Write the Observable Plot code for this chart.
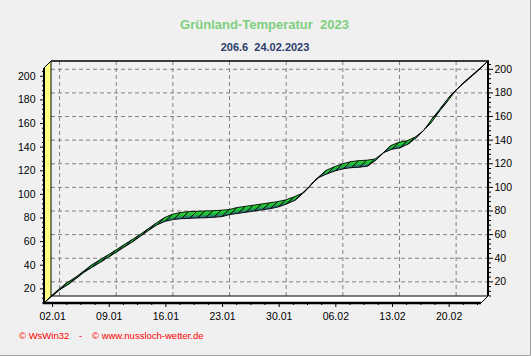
<!DOCTYPE html>
<html><head><meta charset="utf-8">
<script src="https://cdn.jsdelivr.net/npm/d3@7"></script>
<script src="https://cdn.jsdelivr.net/npm/@observablehq/plot@0.6"></script>
<style>
html,body{margin:0;padding:0;background:#f0f0f0;}
#chart{position:relative;width:531px;height:356px;overflow:hidden;}
</style></head><body><div id="chart"></div>
<script>
// ---- data ----
const title = "Grünland-Temperatur  2023";
const subtitle = "206.6  24.02.2023";
const footerParts = ["© WsWin32", "-", "© www.nussloch-wetter.de"];
const startDate = "01.01.2023";
// daily cumulative grassland temperature sum, 01.01 .. 24.02
const values = [
  7.6, 13.5, 19.0, 23.3, 28.5, 33.8, 38.1, 42.2, 46.5, 50.9,
  55.3, 59.6, 64.5, 69.4, 73.9, 76.8, 78.3, 79.0, 79.3, 79.6,
  79.8, 80.2, 80.8, 82.5, 83.5, 84.5, 85.5, 86.5, 87.5, 89.0,
  91.5, 94.5, 100.5, 108.0, 114.0, 117.0, 119.5, 121.3, 122.2, 122.6,
  123.5, 128.5, 135.0, 137.8, 139.0, 142.2, 147.5, 154.5, 164.0, 172.5,
  181.5, 188.5, 194.5, 200.5, 206.6
];
const yTicks = [20, 40, 60, 80, 100, 120, 140, 160, 180, 200];
const xTickLabels = ["02.01", "09.01", "16.01", "23.01", "30.01", "06.02", "13.02", "20.02"];

// ---- derived ----
const parse = d3.utcParse("%d.%m.%Y");
const start = parse(startDate);
const data = values.map((v, i) => ({date: d3.utcDay.offset(start, i), value: v}));
const xTicks = xTickLabels.map(s => parse(s + ".2023"));
const endDate = data[data.length - 1].date;
const xMinor = [];
for (let k = 1; ; k++) {
  const t = new Date(+xTicks[0] + k * 1.75 * 864e5);
  if (t > endDate) break;
  if (k % 4) xMinor.push(t);
}
const yMin = d3.min(values), yMax = d3.max(values);
const yMinor = d3.range(8, yMax, 4).filter(v => v % 20 !== 0);

const D = 7; // depth of the 3D effect in px
const gridStyle = {stroke: "#808080", strokeOpacity: 1, strokeDasharray: "4,3", dx: D, dy: -D};

const box = (index, scales, vals, dim) => {
  const L = dim.marginLeft, R = dim.width - dim.marginRight;
  const T = dim.marginTop, B = dim.height - dim.marginBottom;
  const g = d3.create("svg:g");
  g.append("polygon").attr("points", `${L},${B} ${L},${T} ${L+D},${T-D} ${L+D},${B-D}`)
    .attr("fill", "#ffff80").attr("stroke", "black");
  g.append("polygon").attr("points", `${L},${B} ${R},${B} ${R+D},${B-D} ${L+D},${B-D}`)
    .attr("fill", "white").attr("stroke", "black");
  g.append("line").attr("x1", L+D).attr("x2", R+D+1).attr("y1", T-D).attr("y2", T-D)
    .attr("stroke", "black").attr("stroke-width", 1.5);
  g.append("line").attr("x1", R+D).attr("x2", R+D).attr("y1", T-D).attr("y2", B-D)
    .attr("stroke", "black").attr("stroke-width", 2);
  g.append("line").attr("x1", L-1).attr("x2", R).attr("y1", B).attr("y2", B)
    .attr("stroke", "black").attr("stroke-width", 2.5);
  g.append("line").attr("x1", L).attr("x2", L).attr("y1", T).attr("y2", B)
    .attr("stroke", "black").attr("stroke-width", 2);
  return g.node();
};

const ribbon = (index, scales) => {
  const g = d3.create("svg:g");
  const grad = g.append("defs").append("linearGradient").attr("id", "rib")
    .attr("x1", 0).attr("y1", 0).attr("x2", 0).attr("y2", 1);
  grad.append("stop").attr("offset", "0%").attr("stop-color", "#2ee62e");
  grad.append("stop").attr("offset", "50%").attr("stop-color", "#1fb83a");
  grad.append("stop").attr("offset", "100%").attr("stop-color", "#2d5296");
  const pts = data.map(d => [scales.x(d.date), scales.y(d.value)]);
  for (let i = 0; i < pts.length - 1; i++) {
    const [x0, y0] = pts[i], [x1, y1] = pts[i + 1];
    g.append("path")
      .attr("d", `M${x0},${y0}L${x1},${y1}L${x1+D},${y1-D}L${x0+D},${y0-D}Z`)
      .attr("fill", "url(#rib)").attr("stroke", "black").attr("stroke-width", 0.9)
      .attr("stroke-linejoin", "round");
  }
  return g.node();
};

const border = (index, scales, vals, dim) => {
  const g = d3.create("svg:g");
  g.append("path").attr("d", `M${dim.width-0.5},0V${dim.height-0.5}H0`)
    .attr("fill", "none").attr("stroke", "#a0a0a0");
  return g.node();
};

const chart = Plot.plot({
  width: 531,
  height: 356,
  marginLeft: 44,
  marginRight: 50,
  marginTop: 68,
  marginBottom: 53,
  style: {background: "#f0f0f0", fontFamily: "'Liberation Sans', Arial, sans-serif", fontSize: "10.5px", color: "black"},
  x: {type: "utc", domain: [start, endDate]},
  y: {domain: [yMin, yMax]},
  marks: [
    Plot.gridX(xTicks, gridStyle),
    Plot.gridY(yTicks, gridStyle),
    box,
    ribbon,
    Plot.axisX(xTicks, {tickSize: 4, tickPadding: 5, tickFormat: (d, i) => xTickLabels[i], stroke: "black", fill: "black"}),
    Plot.axisX(xMinor, {tickSize: 2, tickFormat: () => "", stroke: "black"}),
    Plot.axisY(yTicks, {anchor: "left", tickSize: 4, tickPadding: 5, stroke: "black", fill: "black"}),
    Plot.axisY(yMinor, {anchor: "left", tickSize: 2, tickFormat: () => "", stroke: "black"}),
    Plot.axisY(yTicks, {anchor: "right", tickSize: 4, tickPadding: 2, dx: D, dy: -D, stroke: "black", fill: "black"}),
    Plot.axisY(yMinor, {anchor: "right", tickSize: 2, tickFormat: () => "", dx: D, dy: -D, stroke: "black"}),
    Plot.text([title], {frameAnchor: "top", dx: 1.5, dy: -44, fill: "#7ecf7e", fontWeight: "bold", fontSize: 13, lineAnchor: "middle"}),
    Plot.text([subtitle], {frameAnchor: "top", dx: 2, dy: -21.5, fill: "#2b3d6b", fontWeight: "bold", fontSize: 11, lineAnchor: "middle"}),
    Plot.text([footerParts[0]], {frameAnchor: "bottom-left", dx: -25.5, dy: 32.5, textAnchor: "start", fill: "#ff0000", fontSize: 9.5, lineAnchor: "middle"}),
    Plot.text([footerParts[1]], {frameAnchor: "bottom-left", dx: 34.5, dy: 32.5, textAnchor: "start", fill: "#ff0000", fontSize: 9.5, lineAnchor: "middle"}),
    Plot.text([footerParts[2]], {frameAnchor: "bottom-left", dx: 47.5, dy: 32.5, textAnchor: "start", fill: "#ff0000", fontSize: 9.5, lineAnchor: "middle"}),
    border
  ]
});
document.getElementById("chart").appendChild(chart);
</script></body></html>
